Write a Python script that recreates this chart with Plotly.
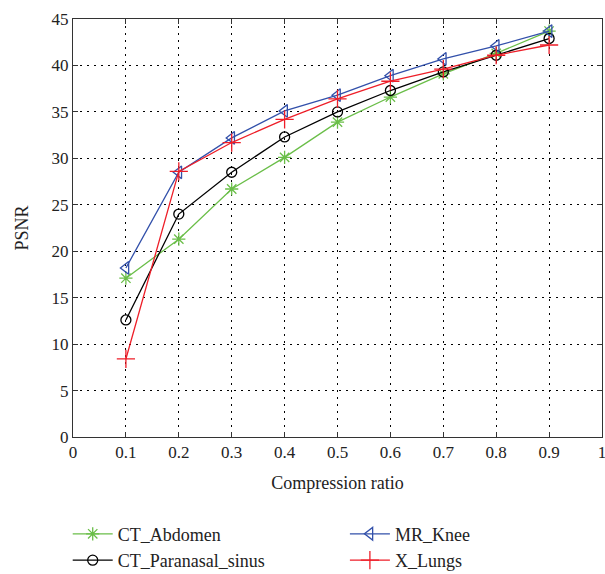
import plotly.graph_objects as go

ratio = [0.1, 0.2, 0.3, 0.4, 0.5, 0.6, 0.7, 0.8, 0.9]
ct_abdomen = [17.1, 21.3, 26.7, 30.1, 33.9, 36.6, 39.1, 41.3, 43.7]
ct_paranasal = [12.6, 24.0, 28.5, 32.3, 35.0, 37.3, 39.3, 41.1, 42.9]
mr_knee = [18.2, 28.5, 32.2, 35.1, 36.8, 38.9, 40.7, 42.1, 43.7]
x_lungs = [8.4, 28.6, 31.7, 34.2, 36.4, 38.3, 39.6, 41.1, 42.2]
x_tickvals = [0, 0.1, 0.2, 0.3, 0.4, 0.5, 0.6, 0.7, 0.8, 0.9, 1]
x_ticktext = ["0", "0.1", "0.2", "0.3", "0.4", "0.5", "0.6", "0.7", "0.8", "0.9", "1"]

FONT = "Liberation Serif, Times New Roman, serif"
GREEN = "rgb(106,190,72)"
BLACK = "black"
BLUE = "rgb(50,80,170)"
RED = "rgb(238,30,40)"

fig = go.Figure()
fig.add_trace(go.Scatter(x=ratio, y=ct_abdomen, name="CT_Abdomen", mode="lines+markers",
                         line=dict(color=GREEN, width=1.3),
                         marker=dict(symbol="asterisk-open", size=11, color=GREEN, line=dict(color=GREEN, width=1.3)),
                         legend="legend"))
fig.add_trace(go.Scatter(x=ratio, y=ct_paranasal, name="CT_Paranasal_sinus", mode="lines+markers",
                         line=dict(color=BLACK, width=1.3),
                         marker=dict(symbol="circle-open", size=10, color=BLACK, line=dict(color=BLACK, width=1.3)),
                         legend="legend"))
fig.add_trace(go.Scatter(x=ratio, y=mr_knee, name="MR_Knee", mode="lines+markers",
                         line=dict(color=BLUE, width=1.3),
                         marker=dict(symbol="triangle-left-open", size=11, color=BLUE, line=dict(color=BLUE, width=1.3)),
                         legend="legend2"))
fig.add_trace(go.Scatter(x=ratio, y=x_lungs, name="X_Lungs", mode="lines+markers",
                         line=dict(color=RED, width=1.3),
                         marker=dict(symbol="cross-thin-open", size=13, color=RED, line=dict(color=RED, width=1.3)),
                         legend="legend2"))

axis_common = dict(
    showline=True, linecolor="#333", linewidth=1, mirror="ticks",
    ticks="inside", ticklen=5, tickcolor="#333",
    showgrid=True, gridcolor="#000000", gridwidth=1, griddash="2px,5px",
    zeroline=False, automargin=False, ticklabeloverflow="allow",
    tickfont=dict(family=FONT, size=17, color="#222"),
)

fig.update_xaxes(range=[0, 1], tickmode="array", tickvals=x_tickvals, ticktext=x_ticktext,
                 title=dict(text="Compression ratio", font=dict(family=FONT, size=18, color="#222"), standoff=14),
                 **axis_common)
fig.update_yaxes(range=[0, 45], dtick=5, tick0=0,
                 title=dict(text="PSNR", font=dict(family=FONT, size=18, color="#222"), standoff=18),
                 **axis_common)

legend_common = dict(font=dict(family=FONT, size=18, color="#222"), bgcolor="rgba(0,0,0,0)",
                     yanchor="top", xanchor="left", orientation="v", tracegroupgap=0,
                     itemwidth=40)
fig.update_layout(
    width=605, height=574,
    margin=dict(l=73, r=3, t=19, b=137, autoexpand=False),
    paper_bgcolor="white", plot_bgcolor="white",
    font=dict(family=FONT),
    legend=dict(x=-0.01, y=-0.188, **legend_common),
    legend2=dict(x=0.514, y=-0.188, **legend_common),
)

fig.write_html("out.html", config={"displayModeBar": False},
               post_script="document.body.style.margin='0px';")
